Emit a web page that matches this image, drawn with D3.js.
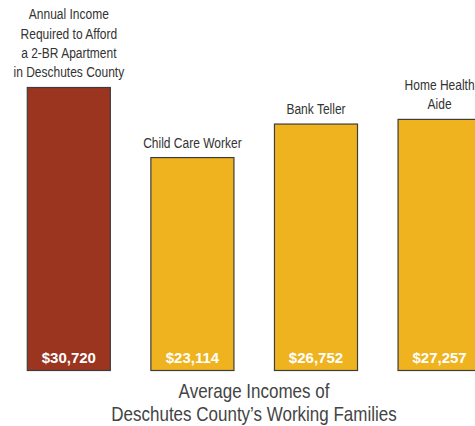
<!DOCTYPE html>
<html>
<head>
<meta charset="utf-8">
<script src="https://cdn.jsdelivr.net/npm/d3@7"></script>
<style>
    html, body { margin: 0; padding: 0; background: #fff; }
    svg { display: block; }
    .bar-label { font-family: "Liberation Sans", Arial, sans-serif; font-size: 15px; fill: #333; }
    .value-label { font-family: "Liberation Sans", Arial, sans-serif; font-size: 15px; font-weight: bold; fill: #fff; }
    .title { font-family: "Liberation Sans", Arial, sans-serif; font-size: 20px; fill: #444; }
</style>
</head>
<body>
<div id="chart"></div>
<script>
// data
const categories = ['Required', 'Child Care Worker', 'Bank Teller', 'Home Health Aide'];
const incomes = [30720, 23114, 26752, 27257];
const barLabels = [
    ['Annual Income', 'Required to Afford', 'a 2-BR Apartment', 'in Deschutes County'],
    ['Child Care Worker'],
    ['Bank Teller'],
    ['Home Health', 'Aide']
];
const titleLines = ['Average Incomes of', 'Deschutes County\u2019s Working Families'];

document.addEventListener('DOMContentLoaded', function () {
    const width = 475;
    const height = 426;
    const colors = ['#9b3520', '#efb320', '#efb320', '#efb320'];
    const narrow = 0.8; // no condensed font installed, squeeze horizontally

    const data = categories.map((c, i) => ({ name: c, value: incomes[i], lines: barLabels[i], color: colors[i] }));

    const x = d3.scaleBand()
        .domain(categories)
        .range([27.3, 481.1])
        .paddingInner(0.328)
        .paddingOuter(0);

    const y = d3.scaleLinear()
        .domain([0, d3.max(incomes)])
        .range([370.5, 87.5]);

    const svg = d3.select('#chart')
        .append('svg')
        .attr('width', width)
        .attr('height', height);

    const bar = svg.selectAll('g.bar')
        .data(data)
        .enter().append('g')
        .attr('class', 'bar');

    bar.append('rect')
        .attr('x', d => x(d.name))
        .attr('y', d => y(d.value))
        .attr('width', x.bandwidth())
        .attr('height', d => y(0) - y(d.value))
        .attr('fill', d => d.color)
        .attr('stroke', '#3d3d3d')
        .attr('stroke-width', 1.2);

    bar.append('text')
        .attr('class', 'value-label')
        .attr('x', d => x(d.name) + x.bandwidth() / 2)
        .attr('y', y(0) - 7.5)
        .attr('text-anchor', 'middle')
        .text(d => d3.format('$,')(d.value));

    const lineH = 19.4;
    bar.append('g')
        .attr('transform', d => `translate(${x(d.name) + x.bandwidth() / 2},0) scale(${narrow},1)`)
        .append('text')
        .attr('class', 'bar-label')
        .attr('text-anchor', 'middle')
        .selectAll('tspan')
        .data(d => d.lines.map((l, i) => ({ text: l, i: i, n: d.lines.length, d: d })))
        .enter().append('tspan')
        .attr('x', 0)
        .attr('y', t => y(t.d.value) - 10 - (t.n - 1 - t.i) * lineH)
        .text(t => t.text);

    svg.append('g')
        .attr('transform', `translate(254,0) scale(0.85,1)`)
        .append('text')
        .attr('class', 'title')
        .attr('text-anchor', 'middle')
        .selectAll('tspan')
        .data(titleLines)
        .enter().append('tspan')
        .attr('x', 0)
        .attr('y', (d, i) => 398 + i * 22.7)
        .text(d => d);
});
</script>
</body>
</html>
